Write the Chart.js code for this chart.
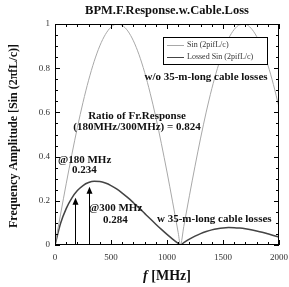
<!DOCTYPE html>
<html><head><meta charset="utf-8">
<script src="https://cdn.jsdelivr.net/npm/chart.js@4/dist/chart.umd.min.js"></script>
<style>html,body{margin:0;padding:0;background:#fff}#wrap{width:289px;height:287px}</style>
</head><body><div id="wrap"><canvas id="c" width="289" height="287"></canvas></div>
<script>
const freqMHz = [0,50,100,150,200,250,300,350,400,450,500,550,600,650,700,750,800,850,900,950,1000,1050,1100,1120,1150,1200,1250,1300,1350,1400,1450,1500,1550,1600,1650,1700,1750,1800,1850,1900,1950,2000];
const sinValues = [0,0.1398,0.2769,0.4085,0.5320,0.6454,0.7456,0.8314,0.9010,0.9528,0.9859,0.9996,0.9937,0.9684,0.9239,0.8613,0.7818,0.6866,0.5786,0.4584,0.3303,0.1950,0.0560,0,0.0841,0.2225,0.3566,0.4837,0.6013,0.7071,0.7986,0.8752,0.9345,0.9752,0.9965,0.9984,0.9810,0.9439,0.8883,0.8156,0.7264,0.6235];
const lossedValues = [0,0.0986,0.1648,0.2124,0.2463,0.2691,0.2825,0.2881,0.2871,0.2804,0.2690,0.2536,0.2350,0.2142,0.1914,0.1678,0.1431,0.1184,0.0941,0.0705,0.0480,0.0269,0.0073,0,0.0104,0.0262,0.0399,0.0516,0.0610,0.0685,0.0737,0.0772,0.0787,0.0785,0.0766,0.0734,0.0691,0.0636,0.0575,0.0505,0.0432,0.0356];
const xTicks = [0,500,1000,1500,2000];
const yTicks = [0,0.2,0.4,0.6,0.8,1];
const markerFreqs = [180,300];
const markerValues = [0.234,0.284];
const seriesNames = ['Sin (2pifL/c)','Lossed Sin (2pifL/c)'];

const SERIF = '"Liberation Serif", "DejaVu Serif", serif';
const GRAY = '#a8a8a8', DARK = '#444444';

const toPts = (ys) => freqMHz.map((f,i)=>({x:f,y:ys[i]}));

const decor = {
  id:'decor',
  afterDatasetsDraw(chart){
    const {ctx, chartArea:a, scales:{x,y}} = chart;
    ctx.save();
    // frame
    ctx.strokeStyle='#000'; ctx.lineWidth=1;
    ctx.strokeRect(a.left+0.5,a.top+0.5,a.right-a.left-1,a.bottom-a.top-1);
    // inner ticks on all sides
    ctx.beginPath();
    for(let f=0; f<=2000; f+=100){
      const px=Math.round(x.getPixelForValue(f))+0.5, L=(f%500===0)?5:3;
      ctx.moveTo(px,a.bottom); ctx.lineTo(px,a.bottom-L);
      ctx.moveTo(px,a.top); ctx.lineTo(px,a.top+L);
    }
    for(let k=0; k<=20; k++){
      const v=k*0.05, py=Math.round(y.getPixelForValue(v))+0.5, L=(k%4===0)?5:3;
      ctx.moveTo(a.left,py); ctx.lineTo(a.left+L,py);
      ctx.moveTo(a.right,py); ctx.lineTo(a.right-L,py);
    }
    ctx.stroke();
    // arrows at marker frequencies
    ctx.strokeStyle='#000'; ctx.fillStyle='#000'; ctx.lineWidth=1;
    markerFreqs.forEach((f,i)=>{
      const px=Math.round(x.getPixelForValue(f))+0.5;
      const y0=y.getPixelForValue(0), y1=y.getPixelForValue(markerValues[i]-0.02);
      ctx.beginPath(); ctx.moveTo(px,y0); ctx.lineTo(px,y1+6); ctx.stroke();
      ctx.beginPath(); ctx.moveTo(px,y1); ctx.lineTo(px-3,y1+7); ctx.lineTo(px+3,y1+7); ctx.closePath(); ctx.fill();
    });
    // legend box
    const lx=163, ly=37, lw=104, lh=27;
    ctx.fillStyle='#fff'; ctx.fillRect(lx,ly,lw,lh);
    ctx.strokeStyle='#000'; ctx.lineWidth=1; ctx.strokeRect(lx+0.5,ly+0.5,lw,lh);
    ctx.font='8px '+SERIF; ctx.textBaseline='middle'; ctx.textAlign='left'; ctx.fillStyle='#333';
    [[GRAY,45],[DARK,57]].forEach(([c,yy],i)=>{
      ctx.strokeStyle=c; ctx.lineWidth=1;
      ctx.beginPath(); ctx.moveTo(167,yy+0.5); ctx.lineTo(184,yy+0.5); ctx.stroke();
      ctx.fillText(seriesNames[i],187,yy);
    });
    // annotations
    ctx.fillStyle='#111'; ctx.textAlign='center';
    ctx.font='bold 11px '+SERIF;
    ctx.fillText('w/o 35-m-long cable losses',206,77);
    ctx.fillText('Ratio of Fr.Response',137,116);
    ctx.fillText('(180MHz/300MHz) = '+(markerValues[0]/markerValues[1]).toFixed(3),137,127);
    ctx.textAlign='left';
    ctx.fillText('@'+markerFreqs[0]+' MHz',58,160);
    ctx.fillText(markerValues[0].toFixed(3),72,170);
    ctx.fillText('@'+markerFreqs[1]+' MHz',89,208);
    ctx.fillText(markerValues[1].toFixed(3),103,220);
    ctx.fillText('w 35-m-long cable losses',157,219);
    // titles
    ctx.textAlign='center';
    ctx.font='bold 12.5px '+SERIF;
    ctx.fillText('BPM.F.Response.w.Cable.Loss',167,11);
    // x title with italic f
    ctx.font='bold italic 14px '+SERIF;
    const fW=ctx.measureText('f').width;
    ctx.font='bold 14px '+SERIF;
    const rest=' [MHz]', rW=ctx.measureText(rest).width;
    const sx=167-(fW+rW)/2;
    ctx.textAlign='left';
    ctx.font='bold italic 14px '+SERIF; ctx.fillText('f',sx,276);
    ctx.font='bold 14px '+SERIF; ctx.fillText(rest,sx+fW,276);
    // y title
    ctx.translate(14,136); ctx.rotate(-Math.PI/2);
    ctx.textAlign='center'; ctx.font='bold 12px '+SERIF;
    ctx.fillText('Frequency Amplitude [Sin (2\u03C0fL/c)]',0,0);
    ctx.restore();
  }
};

new Chart(document.getElementById('c'),{
  type:'scatter',
  data:{datasets:[
    {label:seriesNames[0],data:toPts(sinValues),showLine:true,borderColor:GRAY,borderWidth:1,pointRadius:0,cubicInterpolationMode:'monotone'},
    {label:seriesNames[1],data:toPts(lossedValues),showLine:true,borderColor:DARK,borderWidth:1.5,pointRadius:0,cubicInterpolationMode:'monotone'}
  ]},
  options:{
    responsive:false, animation:false, devicePixelRatio:1,
    layout:{padding:{top:24,right:0,left:0,bottom:0}},
    plugins:{legend:{display:false},tooltip:{enabled:false},title:{display:false}},
    scales:{
      x:{type:'linear',min:0,max:2000,
        afterBuildTicks:s=>{s.ticks=xTicks.map(v=>({value:v}));},
        afterFit:s=>{s.height=42; s.paddingRight=10; s.paddingLeft=0;},
        grid:{display:false,drawTicks:false},border:{display:false},
        ticks:{padding:7,color:'#333',font:{family:SERIF,size:9},maxRotation:0,callback:v=>String(v)}},
      y:{type:'linear',min:0,max:1,
        afterBuildTicks:s=>{s.ticks=yTicks.map(v=>({value:v}));},
        afterFit:s=>{s.width=55; s.paddingTop=0; s.paddingBottom=0;},
        grid:{display:false,drawTicks:false},border:{display:false},
        ticks:{padding:5,color:'#333',font:{family:SERIF,size:9},callback:v=>String(v)}}
    }
  },
  plugins:[decor]
});
</script></body></html>
